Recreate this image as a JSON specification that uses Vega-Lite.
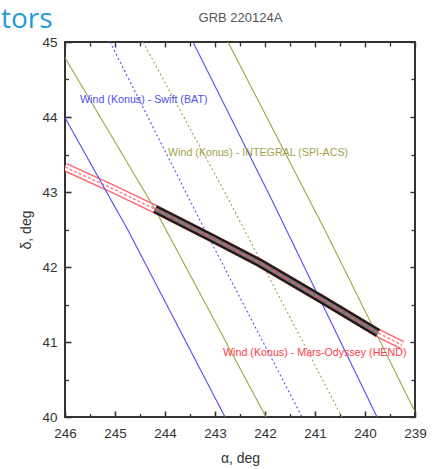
{
  "$schema": "https://vega.github.io/schema/vega-lite/v6.json",
  "width": 350,
  "height": 375,
  "autosize": "none",
  "padding": {"left": 65, "top": 42, "right": 18, "bottom": 52},
  "background": "white",
  "title": {"text": "tors", "anchor": "start", "frame": "group", "dx": -64, "offset": -23, "fontSize": 28, "font": "Open Sans", "color": "#1f9bd8", "fontWeight": "normal"},
  "config": {
    "view": {"stroke": "#333", "strokeWidth": 2},
    "axis": {"labelFont": "Liberation Sans", "titleFont": "Liberation Sans", "labelFontSize": 13.5, "titleFontSize": 14, "labelColor": "#333", "titleColor": "#333", "titleFontWeight": "normal", "tickColor": "#333", "grid": false, "domain": false}
  },
  "datasets": {
    "lines": [
      {"instrument": "Swift (BAT)", "series": "Swift lower", "part": "edge", "alpha": 246, "delta": 43.99},
      {"instrument": "Swift (BAT)", "series": "Swift lower", "part": "edge", "alpha": 244.74, "delta": 42.49},
      {"instrument": "Swift (BAT)", "series": "Swift lower", "part": "edge", "alpha": 242.8, "delta": 40.0},
      {"instrument": "Swift (BAT)", "series": "Swift centre", "part": "centre", "alpha": 245.1, "delta": 45},
      {"instrument": "Swift (BAT)", "series": "Swift centre", "part": "centre", "alpha": 243.2, "delta": 42.49},
      {"instrument": "Swift (BAT)", "series": "Swift centre", "part": "centre", "alpha": 241.26, "delta": 40},
      {"instrument": "Swift (BAT)", "series": "Swift upper", "part": "edge", "alpha": 243.44, "delta": 45},
      {"instrument": "Swift (BAT)", "series": "Swift upper", "part": "edge", "alpha": 241.86, "delta": 42.89},
      {"instrument": "Swift (BAT)", "series": "Swift upper", "part": "edge", "alpha": 239.76, "delta": 40},
      {"instrument": "INTEGRAL (SPI-ACS)", "series": "INTEGRAL lower", "part": "edge", "alpha": 246, "delta": 44.79},
      {"instrument": "INTEGRAL (SPI-ACS)", "series": "INTEGRAL lower", "part": "edge", "alpha": 244.2, "delta": 42.77},
      {"instrument": "INTEGRAL (SPI-ACS)", "series": "INTEGRAL lower", "part": "edge", "alpha": 241.98, "delta": 40.0},
      {"instrument": "INTEGRAL (SPI-ACS)", "series": "INTEGRAL centre", "part": "centre", "alpha": 244.44, "delta": 45},
      {"instrument": "INTEGRAL (SPI-ACS)", "series": "INTEGRAL centre", "part": "centre", "alpha": 242.72, "delta": 42.89},
      {"instrument": "INTEGRAL (SPI-ACS)", "series": "INTEGRAL centre", "part": "centre", "alpha": 240.46, "delta": 40},
      {"instrument": "INTEGRAL (SPI-ACS)", "series": "INTEGRAL upper", "part": "edge", "alpha": 242.74, "delta": 45},
      {"instrument": "INTEGRAL (SPI-ACS)", "series": "INTEGRAL upper", "part": "edge", "alpha": 240.8, "delta": 42.49},
      {"instrument": "INTEGRAL (SPI-ACS)", "series": "INTEGRAL upper", "part": "edge", "alpha": 239.0, "delta": 40.07}
    ],
    "mars": [
      {"alpha": 246, "delta": 43.333},
      {"alpha": 245.1, "delta": 43.06},
      {"alpha": 244.2, "delta": 42.773},
      {"alpha": 243.1, "delta": 42.4},
      {"alpha": 242.1, "delta": 42.053},
      {"alpha": 240.84, "delta": 41.56},
      {"alpha": 239.74, "delta": 41.12},
      {"alpha": 239.26, "delta": 40.96}
    ],
    "overlap": [
      {"alpha": 244.2, "delta": 42.773},
      {"alpha": 243.1, "delta": 42.4},
      {"alpha": 242.1, "delta": 42.053},
      {"alpha": 240.84, "delta": 41.56},
      {"alpha": 239.74, "delta": 41.12}
    ],
    "labels": [
      {"instrument": "Swift (BAT)", "label": "Wind (Konus) - Swift (BAT)", "alpha": 245.7, "delta": 44.227},
      {"instrument": "INTEGRAL (SPI-ACS)", "label": "Wind (Konus) - INTEGRAL (SPI-ACS)", "alpha": 243.94, "delta": 43.52},
      {"instrument": "Mars-Odyssey (HEND)", "label": "Wind (Konus) - Mars-Odyssey (HEND)", "alpha": 242.84, "delta": 40.853}
    ]
  },
  "resolve": {"axis": {"x": "independent", "y": "independent"}},
  "layer": [
    {
      "data": {"name": "mars"},
      "mark": {"type": "line", "color": "#ff4a55", "strokeWidth": 9, "opacity": 0.85, "clip": true},
      "encoding": {
        "x": {"field": "alpha", "type": "quantitative", "scale": {"domain": [239, 246], "reverse": true, "nice": false, "zero": false},
          "axis": {"orient": "bottom", "values": [239, 240, 241, 242, 243, 244, 245, 246], "title": "α, deg", "tickSize": -6, "tickWidth": 1.6, "labelPadding": 15, "titlePadding": 12, "labelFlush": false}},
        "y": {"field": "delta", "type": "quantitative", "scale": {"domain": [40, 45], "nice": false, "zero": false},
          "axis": {"orient": "left", "values": [40, 41, 42, 43, 44, 45], "title": "δ, deg", "tickSize": -6, "tickWidth": 1.6, "labelPadding": 14, "titlePadding": 8, "labelFlush": false}}
      }
    },
    {
      "data": {"name": "mars"},
      "mark": {"type": "line", "color": "white", "strokeWidth": 6, "clip": true},
      "encoding": {
        "x": {"field": "alpha", "type": "quantitative",
          "axis": {"orient": "bottom", "values": [239.5, 240.5, 241.5, 242.5, 243.5, 244.5, 245.5], "labels": false, "title": null, "tickSize": -3.5, "tickWidth": 1.3}},
        "y": {"field": "delta", "type": "quantitative",
          "axis": {"orient": "left", "values": [40.5, 41.5, 42.5, 43.5, 44.5], "labels": false, "title": null, "tickSize": -3.5, "tickWidth": 1.3}}
      }
    },
    {
      "data": {"name": "mars"},
      "mark": {"type": "line", "color": "#ff4a55", "strokeWidth": 1.5, "strokeDash": [3, 2], "opacity": 0.7, "clip": true},
      "encoding": {
        "x": {"field": "alpha", "type": "quantitative",
          "axis": {"orient": "top", "values": [239, 240, 241, 242, 243, 244, 245, 246], "labels": false, "title": "GRB 220124A", "titleFontSize": 13, "titleColor": "#555", "titlePadding": 17, "tickSize": -5, "tickWidth": 1.4}},
        "y": {"field": "delta", "type": "quantitative",
          "axis": {"orient": "right", "values": [40, 41, 42, 43, 44, 45], "labels": false, "title": null, "tickSize": -5, "tickWidth": 1.4}}
      }
    },
    {
      "data": {"name": "lines"},
      "mark": {"type": "line", "strokeWidth": 1.1, "clip": true},
      "encoding": {
        "x": {"field": "alpha", "type": "quantitative",
          "axis": {"orient": "top", "values": [239.5, 240.5, 241.5, 242.5, 243.5, 244.5, 245.5], "labels": false, "title": null, "tickSize": -4, "tickWidth": 1.3}},
        "y": {"field": "delta", "type": "quantitative",
          "axis": {"orient": "right", "values": [40.5, 41.5, 42.5, 43.5, 44.5], "labels": false, "title": null, "tickSize": -4, "tickWidth": 1.3}},
        "detail": {"field": "series"},
        "color": {"field": "instrument", "type": "nominal", "legend": null,
          "scale": {"domain": ["Swift (BAT)", "INTEGRAL (SPI-ACS)", "Mars-Odyssey (HEND)"], "range": ["#4f4ff0", "#a3a24a", "#ff3b4a"]}},
        "strokeDash": {"field": "part", "type": "nominal", "legend": null,
          "scale": {"domain": ["edge", "centre"], "range": [[1, 0], [2, 2.5]]}}
      }
    },
    {
      "data": {"name": "overlap"},
      "mark": {"type": "line", "color": "#1a1a1a", "strokeWidth": 8.5, "clip": true},
      "encoding": {
        "x": {"field": "alpha", "type": "quantitative", "axis": null},
        "y": {"field": "delta", "type": "quantitative", "axis": null}
      }
    },
    {
      "data": {"name": "overlap"},
      "mark": {"type": "line", "color": "#777", "strokeWidth": 4, "clip": true},
      "encoding": {
        "x": {"field": "alpha", "type": "quantitative", "axis": null},
        "y": {"field": "delta", "type": "quantitative", "axis": null}
      }
    },
    {
      "data": {"name": "overlap"},
      "mark": {"type": "line", "color": "#ff5060", "strokeWidth": 1.3, "strokeDash": [4, 3], "clip": true},
      "encoding": {
        "x": {"field": "alpha", "type": "quantitative", "axis": null},
        "y": {"field": "delta", "type": "quantitative", "axis": null}
      }
    },
    {
      "data": {"name": "labels"},
      "mark": {"type": "text", "align": "left", "baseline": "middle", "font": "Liberation Sans", "fontSize": 10.7},
      "encoding": {
        "x": {"field": "alpha", "type": "quantitative", "axis": null},
        "y": {"field": "delta", "type": "quantitative", "axis": null},
        "text": {"field": "label"},
        "color": {"field": "instrument", "type": "nominal", "legend": null}
      }
    }
  ]
}
